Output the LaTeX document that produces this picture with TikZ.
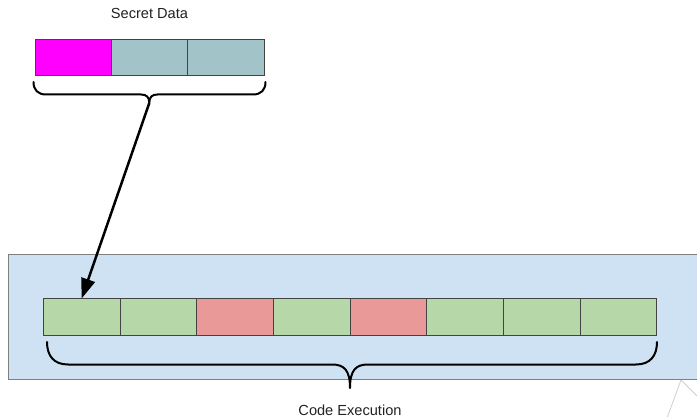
\documentclass[tikz,border=0pt]{standalone}
\usepackage{fontspec}
\setmainfont{Liberation Sans}
\usetikzlibrary{arrows.meta}
\definecolor{magentaC}{HTML}{FF00FF}
\definecolor{tealC}{HTML}{A2C4C9}
\definecolor{greenC}{HTML}{B6D7A8}
\definecolor{redC}{HTML}{EA9999}
\definecolor{blueC}{HTML}{CFE2F3}
\definecolor{edgeC}{HTML}{434343}
\definecolor{frameC}{HTML}{7F7F7F}
\definecolor{faintC}{HTML}{D0D0D0}
\definecolor{inkC}{HTML}{222222}
\begin{document}
\begin{tikzpicture}[x=1pt,y=-1pt,
  cell/.style={draw=edgeC, line width=0.9pt, minimum height=36.6pt,
    inner sep=0pt, outer sep=0pt, anchor=north west},
  topcell/.style={cell, minimum width=76.4pt},
  botcell/.style={cell, minimum width=76.7pt},
  brace/.style={draw=black, line width=2pt, line cap=round, line join=round},
  lbl/.style={font=\fontsize{14.6}{17}\selectfont, text=inkC, anchor=base, inner sep=0pt}
]
\clip (0,0) rectangle (697,417);

% faint edges peeking in at the lower right
\draw[faintC, line width=0.8pt] (667,418) -- (681,380) -- (698,397);

% execution panel
\node (panel) [draw=frameC, line width=1pt, fill=blueC, minimum width=720pt,
  minimum height=124.5pt, inner sep=0pt, anchor=north west] at (7.5,254.5) {};

% secret data cells
\node (s1) [topcell, fill=magentaC] at (35,39) {};
\node (s2) [topcell, fill=tealC] at (s1.north east) {};
\node (s3) [topcell, fill=tealC] at (s2.north east) {};
\node (secret) [lbl] at (149.5,18.3) {Secret Data};

% code cells
\node (b1) [botcell, fill=greenC] at (43.3,298.5) {};
\node (b2) [botcell, fill=greenC] at (b1.north east) {};
\node (b3) [botcell, fill=redC]   at (b2.north east) {};
\node (b4) [botcell, fill=greenC] at (b3.north east) {};
\node (b5) [botcell, fill=redC]   at (b4.north east) {};
\node (b6) [botcell, fill=greenC] at (b5.north east) {};
\node (b7) [botcell, fill=greenC] at (b6.north east) {};
\node (b8) [botcell, fill=greenC] at (b7.north east) {};
\node (code) [lbl] at (350,415.2) {Code Execution};

% braces
\draw[brace] (33.5,82) .. controls (33.5,90) and (38,94.5) .. (46,94.5)
  -- (141,94.5) .. controls (146.5,94.5) and (149.3,97) .. (149.3,103)
  .. controls (149.3,97) and (152,94.5) .. (157.5,94.5)
  -- (253,94.5) .. controls (261,94.5) and (265.5,90) .. (265.5,82);
\coordinate (stip) at (149.3,103);

\draw[brace] (47,342) .. controls (47,356) and (54,364.5) .. (68,364.5)
  -- (332,364.5) .. controls (344,364.5) and (350,370) .. (350,388)
  .. controls (350,370) and (356,364.5) .. (368,364.5)
  -- (636,364.5) .. controls (650,364.5) and (657,356) .. (657,342);

% data flows into the first code cell
\draw[line width=2.5pt, -{Triangle[length=20pt,width=14pt]}] (stip) -- (b1.north);
\end{tikzpicture}
\end{document}
